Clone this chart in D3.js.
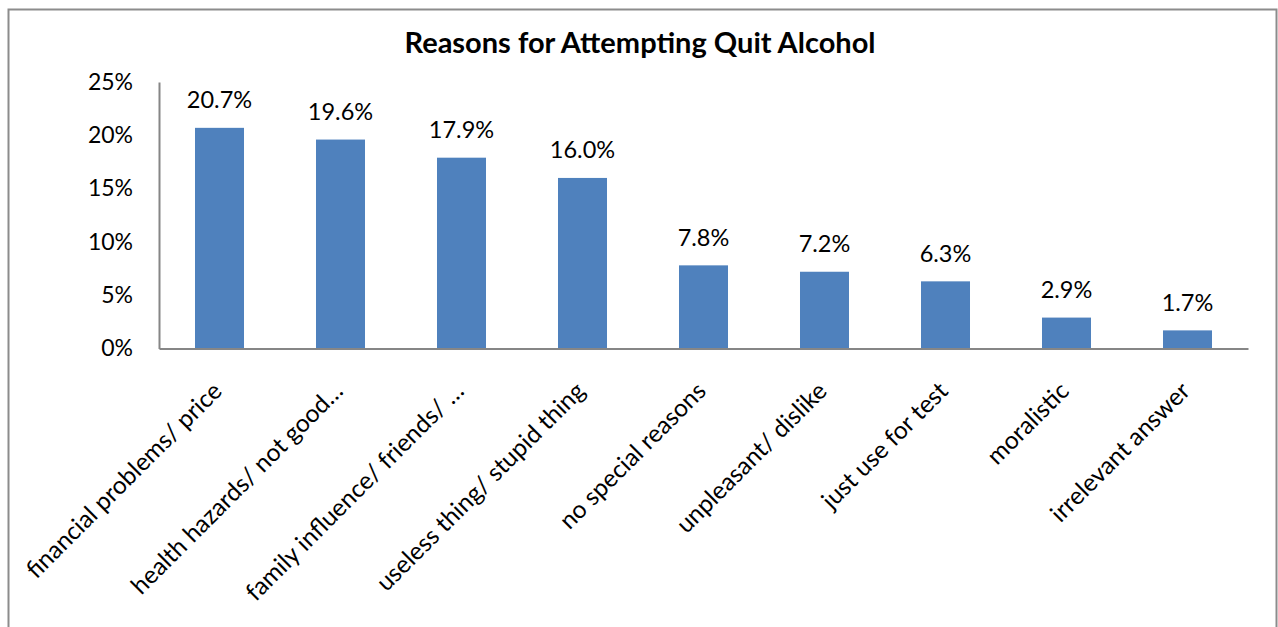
<!DOCTYPE html>
<html lang="en">
<head>
    <meta charset="UTF-8">
    <title>Reasons for Attempting Quit Alcohol</title>
    <script src="https://d3js.org/d3.v7.min.js"></script>
    <style>
        body { margin: 0; background: #fff; }
        text { font-family: Lato, "Open Sans", sans-serif; fill: #000; }
    </style>
</head>
<body>
    <script>
        // Chart data
        const categories = [
            "financial problems/ price",
            "health hazards/ not good\u2026",
            "family influence/ friends/ \u2026",
            "useless thing/ stupid thing",
            "no special reasons",
            "unpleasant/ dislike",
            "just use for test",
            "moralistic",
            "irrelevant answer"
        ];
        const values = [20.7, 19.6, 17.9, 16.0, 7.8, 7.2, 6.3, 2.9, 1.7];
        const yTicks = [0, 5, 10, 15, 20, 25];

        const width = 1278, height = 627;
        const margin = { top: 82, left: 159, right: 30, bottom: 278.5 };

        const svg = d3.select("body")
            .append("svg")
            .attr("width", width)
            .attr("height", height);

        // Outer chart frame
        svg.append("rect")
            .attr("x", 8.5)
            .attr("y", 9.5)
            .attr("width", 1268)
            .attr("height", 640)
            .attr("fill", "none")
            .attr("stroke", "#8c8c8c")
            .attr("stroke-width", 2);

        const x = d3.scaleBand()
            .domain(categories)
            .range([margin.left, width - margin.right])
            .paddingInner(0.595)
            .paddingOuter(0.2975);

        const y = d3.scaleLinear()
            .domain([0, 25])
            .range([height - margin.bottom, margin.top]);

        // Title
        svg.append("text")
            .attr("x", 640)
            .attr("y", 53)
            .attr("text-anchor", "middle")
            .attr("font-size", "29px")
            .attr("font-weight", "bold")
            .text("Reasons for Attempting Quit Alcohol");

        // Bars
        svg.selectAll("rect.bar")
            .data(values)
            .enter()
            .append("rect")
            .attr("class", "bar")
            .attr("x", (d, i) => x(categories[i]))
            .attr("y", d => y(d))
            .attr("width", x.bandwidth())
            .attr("height", d => y(0) - y(d))
            .attr("fill", "#4f81bd");

        // Value labels
        svg.selectAll("text.val")
            .data(values)
            .enter()
            .append("text")
            .attr("class", "val")
            .attr("x", (d, i) => x(categories[i]) + x.bandwidth() / 2)
            .attr("y", d => y(d) - 19.5)
            .attr("text-anchor", "middle")
            .attr("font-size", "23.5px")
            .text(d => d.toFixed(1) + "%");

        // Y axis
        const yAxis = svg.append("g")
            .attr("transform", `translate(${margin.left},0)`)
            .call(d3.axisLeft(y).tickValues(yTicks).tickFormat(d => d + "%").tickSize(0).tickPadding(26));
        yAxis.select(".domain").attr("stroke", "#868686").attr("stroke-width", 2);
        yAxis.selectAll("text")
            .attr("font-size", "23px")
            .attr("font-family", "Lato, 'Open Sans', sans-serif");

        // X axis
        const xAxis = svg.append("g")
            .attr("transform", `translate(0,${y(0)})`)
            .call(d3.axisBottom(x).tickSize(0).tickSizeOuter(0));
        xAxis.select(".domain").attr("stroke", "#868686").attr("stroke-width", 2);
        xAxis.selectAll("text")
            .attr("font-size", "24.5px")
            .attr("font-family", "Lato, 'Open Sans', sans-serif")
            .attr("text-anchor", "end")
            .attr("dy", null)
            .attr("y", 0)
            .attr("transform", "translate(4,44) rotate(-45)");
    </script>
</body>
</html>
